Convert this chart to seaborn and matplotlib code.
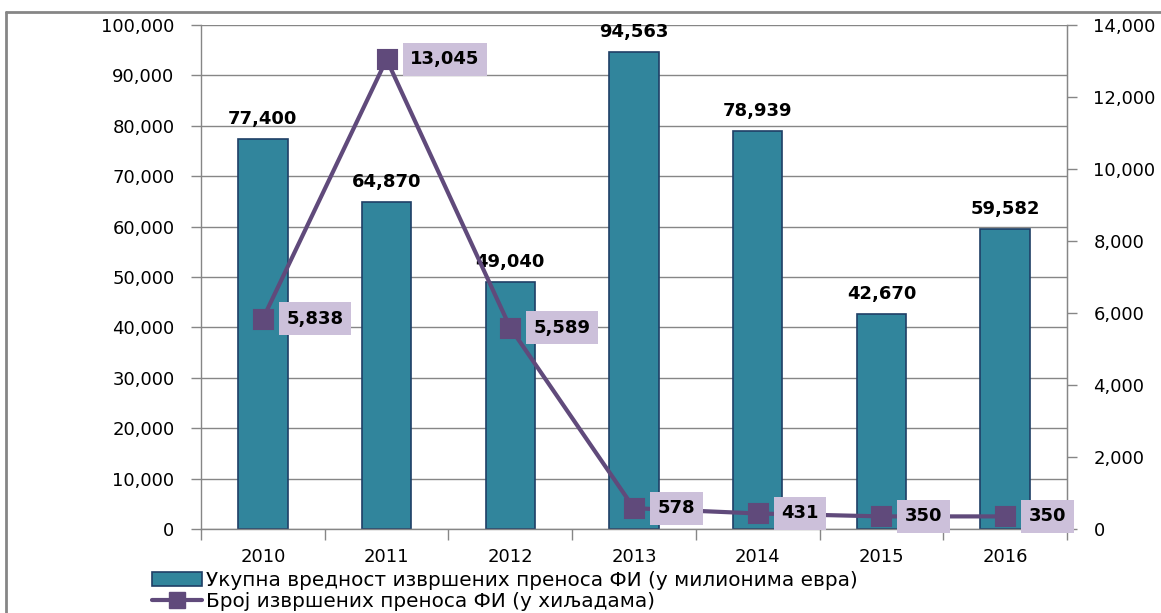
import pandas as pd
import matplotlib.pyplot as plt
import seaborn as sns
from matplotlib.lines import Line2D
from matplotlib.ticker import FuncFormatter, FixedLocator

# -----------------------------
# DATA
# -----------------------------
years = ["2010", "2011", "2012", "2013", "2014", "2015", "2016"]
total_value = [77400, 64870, 49040, 94563, 78939, 42670, 59582]   # u milionima evra
transfer_count = [5838, 13045, 5589, 578, 431, 350, 350]          # u hiljadama

bar_label_text = "Укупна вредност извршених преноса ФИ (у милионима евра)"
line_label_text = "Број извршених преноса ФИ (у хиљадама)"

df = pd.DataFrame({"year": years, "value": total_value, "count": transfer_count})

# -----------------------------
# STYLE
# -----------------------------
sns.set_style("white")
plt.rcParams['font.family'] = ['DejaVu Sans']
plt.rcParams['text.color'] = 'black'
plt.rcParams['xtick.labelcolor'] = 'black'
plt.rcParams['ytick.labelcolor'] = 'black'

bar_color = "#31859C"
bar_edge = "#1F3F66"
line_color = "#604A7B"
box_color = "#CCC0DA"
grid_gray = "#868686"

fig = plt.figure(figsize=(11.61, 6.13), dpi=100)
ax = fig.add_axes([201 / 1161, 1 - 529 / 613, (1067 - 201) / 1161, (529 - 25) / 613])

# Bars
sns.barplot(data=df, x="year", y="value", ax=ax, color=bar_color, width=0.4,
            edgecolor=bar_edge, linewidth=1.2, saturation=1)
ax.set_ylim(0, 100000)
ax.yaxis.set_major_locator(FixedLocator(range(0, 100001, 10000)))
ax.yaxis.set_major_formatter(FuncFormatter(lambda v, p: f"{int(v):,}"))
ax.grid(axis="y", color=grid_gray, lw=1)
ax.set_axisbelow(True)
ax.set_xlabel("")
ax.set_ylabel("")

for sp in ["left", "bottom", "right"]:
    ax.spines[sp].set_color(grid_gray)
    ax.spines[sp].set_linewidth(1)
ax.spines["top"].set_visible(False)

ax.tick_params(axis="y", which="major", direction="out", length=7, width=1,
               color=grid_gray, labelcolor="black", labelsize=13, pad=12, left=True)
ax.set_xticks([i - 0.5 for i in range(len(years) + 1)], minor=True)
ax.tick_params(axis="x", which="major", length=0, labelcolor="black", labelsize=13, pad=14)
ax.tick_params(axis="x", which="minor", direction="out", length=8, width=1,
               color=grid_gray, bottom=True)

ax.bar_label(ax.containers[0], labels=[f"{v:,}" for v in total_value],
             padding=8, fontsize=13, fontweight="bold", color="black")

# Line on secondary axis
ax2 = ax.twinx()
sns.pointplot(data=df, x="year", y="count", ax=ax2, color=line_color,
              markers="s", markersize=13, linewidth=3, errorbar=None)
ax2.set_ylim(0, 14000)
ax2.yaxis.set_major_locator(FixedLocator(range(0, 14001, 2000)))
ax2.yaxis.set_major_formatter(FuncFormatter(lambda v, p: f"{int(v):,}"))
ax2.set_ylabel("")
ax2.set_xlabel("")
ax2.grid(False)
for sp in ["top", "left", "bottom"]:
    ax2.spines[sp].set_visible(False)
ax2.spines["right"].set_color(grid_gray)
ax2.tick_params(axis="y", direction="out", length=7, width=1, color=grid_gray,
                labelcolor="black", labelsize=13, pad=12, right=True)
ax.set_xlim(-0.5, len(years) - 0.5)

for i, v in enumerate(transfer_count):
    ax2.annotate(f"{v:,}", (i, v), xytext=(17, 0), textcoords="offset points",
                 ha="left", va="center", fontsize=13, fontweight="bold", color="black",
                 bbox=dict(boxstyle="square,pad=0.42", fc=box_color, ec="none"))

# Legend
handles = [
    plt.Rectangle((0, 0), 1, 1, fc=bar_color, ec=bar_edge, lw=1.2),
    Line2D([], [], color=line_color, lw=3, marker="s", markersize=11),
]
fig.legend(handles, [bar_label_text, line_label_text], loc="upper left",
           bbox_to_anchor=(152 / 1161, 1 - 571 / 613), frameon=False,
           fontsize=14.4, handlelength=2.5, handletextpad=0.2, labelspacing=0.08,
           borderpad=0, borderaxespad=0)

# outer chart frame
fig.add_artist(Line2D([6 / 1161, 6 / 1161], [0, 1 - 12 / 613], color=grid_gray,
                      lw=2, transform=fig.transFigure))
fig.add_artist(Line2D([6 / 1161, 1], [1 - 12 / 613, 1 - 12 / 613], color=grid_gray,
                      lw=2, transform=fig.transFigure))

fig.savefig("out.png", dpi=100)
